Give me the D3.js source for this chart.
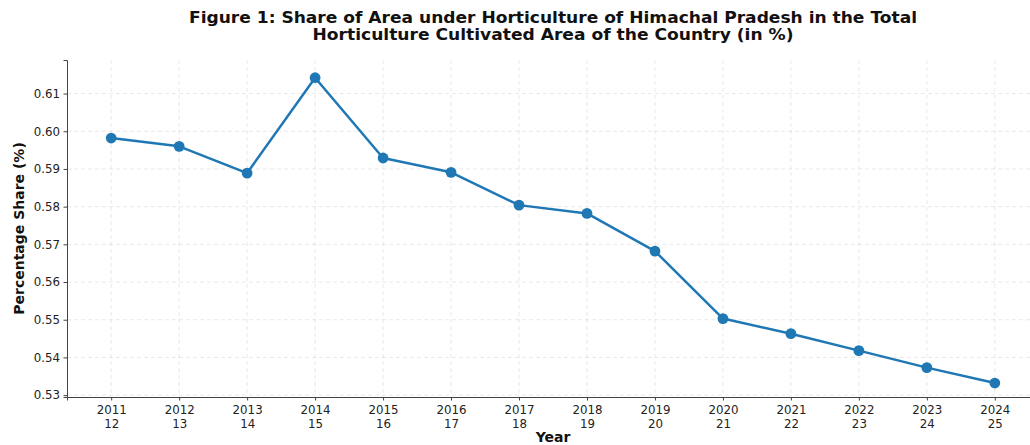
<!DOCTYPE html>
<html><head><meta charset="utf-8">
<script src="https://cdn.jsdelivr.net/npm/d3@7/dist/d3.min.js"></script>
<style>body{margin:0;background:#fff}svg{display:block;font-family:"DejaVu Sans",sans-serif}</style>
</head><body><svg id="c" width="1030" height="445"></svg>
<script>
const years = ["2011\n12","2012\n13","2013\n14","2014\n15","2015\n16","2016\n17","2017\n18","2018\n19","2019\n20","2020\n21","2021\n22","2022\n23","2023\n24","2024\n25"];
const shares = [0.5982,0.5960,0.5889,0.6142,0.5929,0.5891,0.5804,0.5782,0.5682,0.5503,0.5463,0.5418,0.5373,0.5332];
const yTicks = [0.53,0.54,0.55,0.56,0.57,0.58,0.59,0.60,0.61];

const svg = d3.select("#c");
const L = 67, R = 1039, T = 60, B = 397;
const x = d3.scaleLinear().domain([-0.65, years.length - 1 + 0.65]).range([L, R]);
const y = d3.scaleLinear().domain([0.5295, 0.6189]).range([B, T]);

// grid
const g = svg.append("g");
g.selectAll("line.v").data(years).join("line")
  .attr("x1",(d,i)=>x(i)).attr("x2",(d,i)=>x(i)).attr("y1",T).attr("y2",B)
  .attr("stroke","#b0b0b0").attr("stroke-opacity",0.35).attr("stroke-dasharray","4,3").attr("stroke-width",0.8);
g.selectAll("line.h").data(yTicks).join("line")
  .attr("x1",L).attr("x2",R).attr("y1",d=>y(d)).attr("y2",d=>y(d))
  .attr("stroke","#b0b0b0").attr("stroke-opacity",0.35).attr("stroke-dasharray","4,3").attr("stroke-width",0.8);

// axes
const ya = svg.append("g").attr("transform",`translate(${L},0)`)
  .call(d3.axisLeft(y).tickValues(yTicks).tickFormat(d3.format(".2f")).tickSize(3.5).tickPadding(3.5));
ya.select(".domain").attr("stroke","#444").attr("stroke-width",1);
ya.selectAll(".tick line").attr("stroke","#444");
ya.selectAll("text").attr("font-size",11.8).attr("fill","#222").attr("font-family","DejaVu Sans");

const xa = svg.append("g").attr("transform",`translate(0,${B})`)
  .call(d3.axisBottom(x).tickValues(d3.range(years.length)).tickFormat("").tickSize(3.5));
xa.select(".domain").attr("stroke","#444").attr("stroke-width",1);
xa.selectAll(".tick line").attr("stroke","#444");
xa.selectAll(".tick").each(function(d){
  const parts = years[d].split("\n");
  const t = d3.select(this).append("text").attr("fill","#222").attr("font-size",11.8)
    .attr("text-anchor","middle").attr("font-family","DejaVu Sans");
  parts.forEach((p,k)=>t.append("tspan").attr("x",0).attr("y",17+k*13.5).text(p));
});

// line
svg.append("path").datum(shares)
  .attr("d", d3.line().x((d,i)=>x(i)).y(d=>y(d)))
  .attr("fill","none").attr("stroke","#1f77b4").attr("stroke-width",2.5).attr("stroke-linejoin","round");
svg.selectAll("circle.p").data(shares).join("circle")
  .attr("cx",(d,i)=>x(i)).attr("cy",d=>y(d)).attr("r",5.4).attr("fill","#1f77b4");

// titles
const cx = (L+R)/2;
svg.append("text").attr("x",cx).attr("y",23).attr("text-anchor","middle")
  .attr("font-size",15).attr("font-weight","bold").attr("fill","#111")
  .attr("textLength",728).attr("lengthAdjust","spacingAndGlyphs")
  .text("Figure 1: Share of Area under Horticulture of Himachal Pradesh in the Total");
svg.append("text").attr("x",cx).attr("y",40).attr("text-anchor","middle")
  .attr("font-size",15).attr("font-weight","bold").attr("fill","#111")
  .attr("textLength",481).attr("lengthAdjust","spacingAndGlyphs")
  .text("Horticulture Cultivated Area of the Country (in %)");
svg.append("text").attr("x",cx).attr("y",442).attr("text-anchor","middle")
  .attr("font-size",14).attr("font-weight","bold").attr("fill","#111").text("Year");
svg.append("text").attr("transform",`translate(24,${(T+B)/2}) rotate(-90)`).attr("text-anchor","middle")
  .attr("font-size",14).attr("font-weight","bold").attr("fill","#111").text("Percentage Share (%)");
</script></body></html>
